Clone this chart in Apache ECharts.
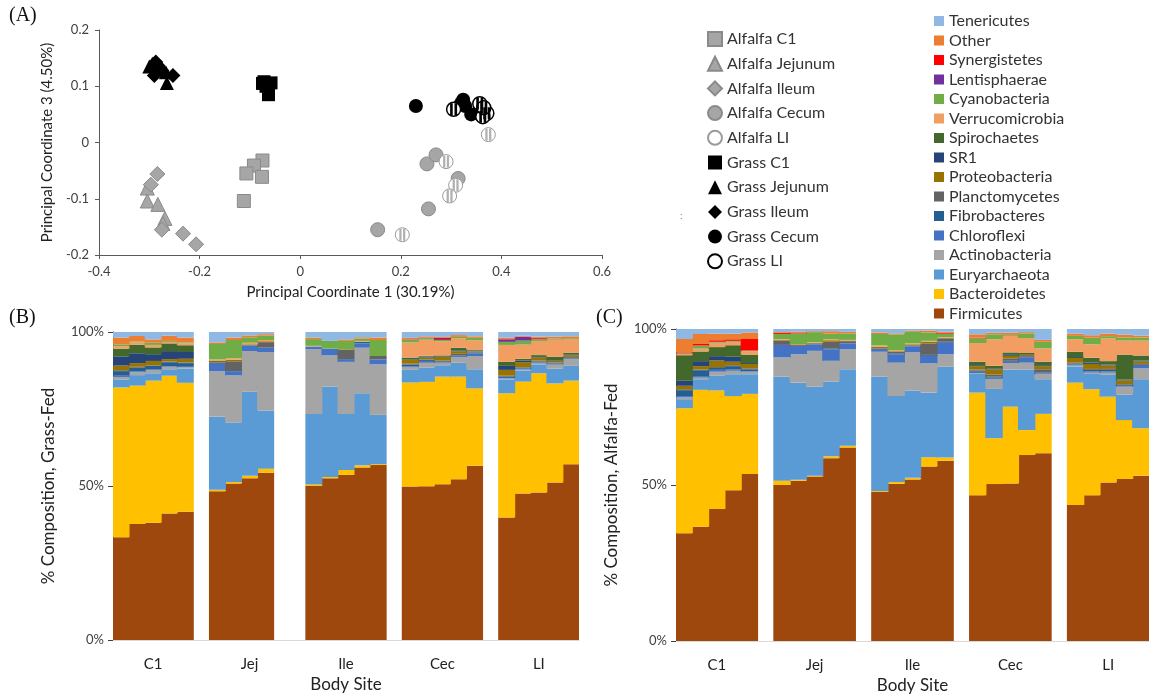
<!DOCTYPE html>
<html>
<head>
<meta charset="utf-8">
<script src="https://cdn.jsdelivr.net/npm/echarts/dist/echarts.min.js"></script>
<style>
  html, body { margin: 0; padding: 0; background: #fff; }
  #chart { width: 1149px; height: 696px; }
</style>
</head>
<body>
<div id="chart"></div>
<script>
// ---- PCoA points [PC1, PC3] ----
const alfalfaC1 = [[-0.075, -0.032], [-0.092, -0.041], [-0.107, -0.055], [-0.076, -0.061], [-0.112, -0.104]]
const alfalfaJej = [[-0.304, -0.081], [-0.304, -0.104], [-0.283, -0.110], [-0.269, -0.135], [-0.273, -0.144]]
const alfalfaIle = [[-0.284, -0.056], [-0.297, -0.075], [-0.275, -0.155], [-0.233, -0.162], [-0.207, -0.181]]
const alfalfaCec = [[0.252, -0.038], [0.270, -0.022], [0.314, -0.064], [0.255, -0.118], [0.154, -0.155]]
const alfalfaLI = [[0.374, 0.014], [0.290, -0.034], [0.309, -0.076], [0.297, -0.095], [0.203, -0.164]]
const grassC1 = [[-0.075, 0.105], [-0.068, 0.100], [-0.058, 0.106], [-0.063, 0.085], [-0.072, 0.108]]
const grassJej = [[-0.294, 0.140], [-0.265, 0.106], [-0.267, 0.125], [-0.300, 0.135]]
const grassIle = [[-0.287, 0.143], [-0.290, 0.119], [-0.253, 0.119], [-0.283, 0.137], [-0.275, 0.128]]
const grassCec = [[0.230, 0.065], [0.324, 0.076], [0.328, 0.065], [0.340, 0.050], [0.320, 0.070]]
const grassLI = [[0.305, 0.059], [0.357, 0.069], [0.371, 0.052], [0.363, 0.046], [0.365, 0.062]]

// ---- bar charts: 5 samples per site (C1, Jej, Ile, Cec, LI) ----
const sites = ['C1', 'Jej', 'Ile', 'Cec', 'LI']
const phyla = ['Firmicutes', 'Bacteroidetes', 'Euryarchaeota', 'Actinobacteria', 'Chloroflexi', 'Fibrobacteres',
  'Planctomycetes', 'Proteobacteria', 'SR1', 'Spirochaetes', 'Verrucomicrobia', 'Cyanobacteria',
  'Lentisphaerae', 'Synergistetes', 'Other', 'Tenericutes']
const phylaColors = ['#9e480e', '#ffc000', '#5b9bd5', '#a5a5a5', '#4472c4', '#255e91',
  '#636363', '#997300', '#264478', '#43682b', '#f29e63', '#70ad47',
  '#7030a0', '#ff0000', '#ed7d31', '#8fb9e4']

// grass-fed (% composition)
const gFirm = [33.4, 37.7, 38.1, 41.1, 41.6, 48.3, 50.8, 52.5, 54.3, null, 50.0, 52.5, 53.6, 56.0, 56.8, 49.8, 49.9, 50.6, 52.2, 56.6, 39.8, 47.6, 47.9, 51.1, 57.1]
const gBact = [48.6, 44.9, 46.1, 44.7, 41.9, 0.5, 0.5, 0.8, 1.3, null, 0.5, 0.4, 1.6, 0.7, 0.3, 33.8, 33.9, 34.9, 33.3, 25.1, 40.3, 36.3, 38.7, 32.2, 27.1]
const gEury = [2.6, 3.4, 2.4, 2.1, 4.6, 23.7, 19.3, 27.3, 18.9, null, 22.9, 29.4, 18.2, 23.4, 16.0, 4.1, 4.6, 3.7, 4.5, 6.2, 4.5, 3.6, 2.9, 4.8, 4.8]
const gActino = [0.8, 0.9, 1.0, 0.8, 0.4, 14.8, 15.3, 13.2, 19.0, null, 21.0, 10.1, 16.9, 14.8, 16.4, 0.8, 1.6, 0.8, 1.9, 4.3, 0.3, 0.3, 0.5, 1.3, 2.2]
const gChlor = [0.4, 0.3, 0.2, 0.2, 0.2, 2.7, 1.4, 1.9, 1.4, null, 0.9, 2.2, 0.9, 1.4, 1.6, 0.3, 0.6, 0.2, 0.4, 0.8, 0.2, 0.3, 0.3, 0.3, 0.2]
const gFibro = [1.5, 1.2, 1.2, 1.3, 1.2, 0, 0, 0, 0, null, 0, 0, 0, 0.5, 0, 0.6, 0.3, 0.3, 0.2, 0.3, 0.5, 0.3, 0.2, 0.2, 0.2]
const gPlanc = [0.3, 0.3, 0.2, 0.2, 0.2, 0, 3.2, 0, 1.8, null, 0, 0, 3.0, 0, 1.1, 0.3, 0.2, 0.2, 0.4, 0.3, 0.2, 0.2, 0.2, 0.2, 0.3]
const gProt = [1.5, 1.2, 1.4, 0.8, 1.2, 0.3, 0.5, 0.3, 0.3, null, 0, 0, 0.2, 0, 0, 1.2, 0.6, 1.2, 0.8, 0.2, 1.9, 1.6, 1.0, 0.6, 0.5]
const gSR1 = [3.0, 3.2, 2.2, 2.6, 2.2, 0, 0, 0, 0, null, 0, 0, 0, 0, 0, 0.2, 0.3, 0.2, 0.2, 0.2, 1.3, 0.5, 0.2, 0.2, 0.2]
const gSpiro = [2.5, 2.7, 2.2, 2.5, 2.2, 0.3, 0, 0, 0, null, 0, 0, 0, 0, 0, 0.6, 0.3, 0.3, 1.0, 0.3, 1.3, 0.6, 0.6, 1.1, 0.6]
const gVerr = [0.8, 0.8, 0.8, 0.5, 0.6, 0.5, 0.5, 0.5, 0.4, null, 0.2, 0, 0, 0.3, 0, 4.9, 5.2, 4.6, 3.0, 3.0, 5.5, 4.6, 4.6, 5.5, 4.5]
const gCyan = [0.6, 0.3, 0.7, 0.3, 0.3, 5.0, 5.9, 1.8, 1.4, null, 2.2, 2.5, 2.7, 0.8, 5.2, 0.8, 0.5, 0.4, 0.5, 0.8, 1.0, 1.3, 0.6, 0.3, 0.3]
const gLent = [0, 0, 0, 0, 0, 0, 0, 0, 0, null, 0, 0, 0, 0, 0, 0.1, 0.1, 0.3, 0, 0, 0.8, 1.2, 0.1, 0, 0]
const gSyn = [0, 0, 0, 0, 0, 0, 0, 0, 0, null, 0, 0, 0, 0, 0, 0.1, 0.1, 0.4, 0, 0, 0.1, 0.1, 0.4, 0, 0]
const gOther = [2.2, 1.8, 1.1, 1.7, 1.6, 0.5, 0.8, 0.6, 0.5, null, 0.5, 0, 0.5, 0.4, 0.8, 0.5, 0.4, 0.3, 0.6, 0.5, 0.5, 0.3, 0.3, 0.7, 0.6]
const gTen = [1.8, 1.3, 2.4, 1.2, 1.8, 3.4, 1.8, 1.1, 0.7, null, 1.8, 2.9, 2.4, 1.7, 1.8, 1.9, 1.4, 1.6, 1.0, 1.4, 1.8, 1.2, 1.5, 1.5, 1.4]

// alfalfa-fed (% composition)
const aFirm = [34.5, 36.6, 42.3, 48.3, 53.5, 50.0, 51.4, 52.7, 58.6, 62.0, 47.8, 50.4, 51.8, 55.9, 57.8, 46.7, 50.3, 50.5, 59.6, 60.2, 43.6, 46.7, 50.8, 51.9, 53.0]
const aBact = [40.1, 43.9, 38.0, 30.2, 25.7, 1.4, 0.3, 0.3, 0.6, 0.6, 0.3, 0.6, 0.5, 3.0, 1.0, 32.9, 14.7, 24.6, 8.0, 12.6, 39.2, 34.0, 27.5, 18.9, 15.2]
const aEury = [2.9, 3.4, 4.7, 7.0, 6.3, 33.3, 31.1, 28.5, 23.9, 24.5, 36.6, 27.5, 28.0, 20.7, 29.1, 6.0, 15.8, 11.9, 19.4, 11.1, 5.2, 4.9, 7.0, 8.2, 15.7]
const aActino = [0.6, 0.5, 1.3, 1.1, 0.8, 6.2, 9.1, 11.5, 6.7, 6.4, 8.0, 10.7, 12.2, 9.4, 4.0, 0.3, 3.2, 2.1, 2.2, 1.6, 0.3, 0.4, 0.7, 2.5, 3.5]
const aChlor = [0.4, 0.3, 0.6, 0.5, 0.2, 4.0, 2.7, 2.1, 3.7, 1.9, 0.9, 2.7, 1.9, 2.4, 3.7, 0.4, 0.4, 0.4, 1.6, 0.3, 0.3, 0.4, 0.4, 0.2, 0.8]
const aFibro = [1.9, 2.1, 0.6, 1.0, 0.6, 0, 0, 0, 0.3, 0, 0, 0.3, 0.2, 0.3, 0.3, 0.4, 0.3, 0.3, 0.2, 0.3, 0.3, 0.5, 0.5, 0.3, 0.3]
const aPlanc = [0.3, 0.2, 0.3, 0.3, 0.3, 1.4, 0.3, 0.3, 2.1, 0.7, 0.2, 0.5, 0.2, 3.7, 1.1, 0.3, 0.7, 0.8, 0.3, 1.0, 0.3, 0.3, 0.3, 0.3, 0.3]
const aProt = [1.1, 1.1, 2.1, 1.1, 1.4, 0.3, 0.2, 0.2, 0.5, 0.2, 0.5, 0.2, 0.3, 0.5, 0.2, 1.1, 1.7, 0.8, 0.4, 1.0, 1.5, 1.6, 1.1, 1.2, 0.8]
const aSR1 = [1.6, 1.6, 1.4, 1.6, 0.3, 0, 0, 0, 0, 0, 0, 0, 0, 0, 0, 0.3, 0.3, 0.3, 0.2, 0.3, 0.3, 0.4, 0.3, 0.3, 0.3]
const aSpiro = [8.2, 3.1, 2.9, 3.7, 2.7, 0, 0, 0, 0, 0, 0, 0, 0, 0, 0, 1.1, 0.8, 0.8, 0.4, 1.1, 1.7, 1.6, 1.1, 8.0, 1.6]
const aVerr = [0.4, 0.9, 1.4, 1.1, 1.1, 0.2, 0.1, 0.2, 0.3, 0.2, 0.4, 0.3, 0.3, 0.3, 0.2, 6.0, 8.5, 5.3, 4.8, 4.3, 4.0, 4.3, 7.3, 4.5, 4.8]
const aCyan = [0.2, 1.0, 0.3, 0.3, 0.2, 1.6, 3.4, 3.2, 1.8, 2.1, 3.7, 5.1, 3.7, 2.7, 1.1, 1.5, 1.6, 0.3, 1.5, 2.1, 1.1, 2.1, 0.7, 1.0, 1.0]
const aLent = [0, 0, 0, 0, 0, 0, 0, 0, 0, 0, 0, 0, 0, 0, 0, 0, 0, 0, 0, 0, 0, 0, 0, 0, 0]
const aSyn = [0.3, 0.5, 0.5, 0.5, 3.7, 0.3, 0.3, 0, 0, 0, 0, 0, 0, 0, 0.3, 0.2, 0, 0, 0, 0, 0, 0, 0, 0, 0]
const aOther = [4.3, 3.2, 2.1, 1.8, 2.1, 0.3, 0.3, 0.3, 0.8, 0.5, 0.5, 0.3, 0.3, 0.6, 0.3, 1.1, 0.5, 0.7, 0.4, 0.6, 0.7, 0.8, 0.8, 0.9, 0.6]
const aTen = [3.2, 1.6, 1.5, 1.5, 1.1, 1.0, 0.8, 0.7, 0.7, 0.9, 1.1, 1.4, 0.6, 0.5, 0.9, 1.7, 1.2, 1.2, 1.0, 3.5, 1.5, 2.0, 1.5, 1.8, 2.1]

const grassData = [gFirm, gBact, gEury, gActino, gChlor, gFibro, gPlanc, gProt, gSR1, gSpiro, gVerr, gCyan, gLent, gSyn, gOther, gTen]
const alfalfaData = [aFirm, aBact, aEury, aActino, aChlor, aFibro, aPlanc, aProt, aSR1, aSpiro, aVerr, aCyan, aLent, aSyn, aOther, aTen]

// 5 samples + 1 empty slot between sites
function toSlots (vals) {
  const out = []
  vals.forEach((v, i) => {
    if (i > 0 && i % 5 === 0) out.push('-')
    out.push(v == null ? '-' : v)
  })
  return out
}
const slots = toSlots(gFirm).map((v, i) => 's' + i)

const font = 'Lato, "Open Sans", sans-serif'
const txt = '#404040'
const grey = '#a6a6a6'
const greyEdge = '#8a8a8a'

function scatter (name, data, symbol, size, fill, edge, edgeW) {
  return {
    name: name,
    type: 'scatter',
    xAxisIndex: 0,
    yAxisIndex: 0,
    symbol: symbol,
    symbolSize: size,
    data: data,
    itemStyle: { color: fill, borderColor: edge, borderWidth: edgeW, opacity: 1 }
  }
}
function stripes (data, color, size) {
  return {
    type: 'scatter',
    xAxisIndex: 0,
    yAxisIndex: 0,
    silent: true,
    symbol: 'path://M0,0h3v10h-3z M5,0h3v10h-3z',
    symbolSize: size,
    data: data,
    itemStyle: { color: color, opacity: 1 }
  }
}

function barAxisX (idx) {
  return {
    type: 'category',
    gridIndex: idx,
    data: slots,
    axisLine: { lineStyle: { color: '#d9d9d9', width: 1 } },
    axisTick: { show: false },
    axisLabel: {
      interval: 0,
      margin: 17,
      fontSize: 15,
      color: '#222',
      fontFamily: font,
      formatter: (v, i) => (i % 6 === 2 ? sites[Math.floor(i / 6)] : '')
    },
    name: 'Body Site',
    nameLocation: 'middle',
    nameGap: 36,
    nameTextStyle: { fontSize: 17, color: '#222', fontFamily: font }
  }
}
function barAxisY (idx, name) {
  return {
    type: 'value',
    gridIndex: idx,
    min: 0,
    max: 100,
    interval: 50,
    splitLine: { show: false },
    axisLine: { show: true, lineStyle: { color: '#404040', width: 1 } },
    axisTick: { show: true, length: 5, lineStyle: { color: '#404040' } },
    axisLabel: { formatter: '{value}%', fontSize: 13, color: txt, fontFamily: font, margin: 9 },
    name: name,
    nameLocation: 'middle',
    nameGap: 56,
    nameRotate: 90,
    nameTextStyle: { fontSize: 17, color: '#222', fontFamily: font }
  }
}

// bars slightly wider than a slot so neighbours touch without seams
const barSeries = []
phyla.forEach((p, k) => {
  barSeries.push({
    name: p, type: 'bar', stack: 'grass', xAxisIndex: 1, yAxisIndex: 1,
    barWidth: 17, barGap: '-100%', data: toSlots(grassData[k]), itemStyle: { color: phylaColors[k] }
  })
  barSeries.push({
    name: p, type: 'bar', stack: 'alfalfa', xAxisIndex: 2, yAxisIndex: 2,
    barWidth: 17.4, barGap: '-100%', data: toSlots(alfalfaData[k]), itemStyle: { color: phylaColors[k] }
  })
})

const chart = echarts.init(document.getElementById('chart'), null, { renderer: 'canvas' })
chart.setOption({
  animation: false,
  backgroundColor: '#fff',
  textStyle: { fontFamily: font },
  grid: [
    { left: 99, right: 547, top: 30, bottom: 441 },
    { left: 113, right: 570, top: 332, bottom: 56 },
    { left: 676, right: -3, top: 329, bottom: 55 }
  ],
  xAxis: [
    {
      type: 'value', gridIndex: 0, min: -0.4, max: 0.6, interval: 0.2,
      splitLine: { show: false },
      axisLine: { onZero: false, lineStyle: { color: '#595959' } },
      axisTick: { show: true, length: 4, lineStyle: { color: '#595959' } },
      axisLabel: { fontSize: 13, color: txt, margin: 10, fontFamily: font },
      name: 'Principal Coordinate 1 (30.19%)',
      nameLocation: 'middle',
      nameGap: 30,
      nameTextStyle: { fontSize: 15, color: '#222', fontFamily: font }
    },
    barAxisX(1),
    barAxisX(2)
  ],
  yAxis: [
    {
      type: 'value', gridIndex: 0, min: -0.2, max: 0.2, interval: 0.1,
      splitLine: { show: false },
      axisLine: { show: true, onZero: false, lineStyle: { color: '#595959' } },
      axisTick: { show: true, length: 4, lineStyle: { color: '#595959' } },
      axisLabel: { fontSize: 13, color: txt, margin: 10, fontFamily: font },
      name: 'Principal Coordinate 3 (4.50%)',
      nameLocation: 'middle',
      nameGap: 44,
      nameRotate: 90,
      nameTextStyle: { fontSize: 15, color: '#222', fontFamily: font }
    },
    barAxisY(1, '% Composition, Grass-Fed'),
    barAxisY(2, '% Composition, Alfalfa-Fed')
  ],
  legend: [
    {
      data: ['Alfalfa C1', 'Alfalfa Jejunum', 'Alfalfa Ileum', 'Alfalfa Cecum', 'Alfalfa LI',
        'Grass C1', 'Grass Jejunum', 'Grass Ileum', 'Grass Cecum', 'Grass LI'],
      orient: 'vertical',
      left: 702,
      top: 26,
      itemWidth: 14,
      itemHeight: 14,
      itemGap: 8.7,
      selectedMode: false,
      textStyle: { fontSize: 16, color: '#333', fontFamily: font, lineHeight: 14 }
    },
    {
      data: phyla.slice().reverse(),
      orient: 'vertical',
      left: 929,
      top: 8,
      itemWidth: 10,
      itemHeight: 10,
      itemGap: 3.5,
      icon: 'rect',
      selectedMode: false,
      textStyle: { fontSize: 16, color: '#333', fontFamily: font, lineHeight: 15 }
    }
  ],
  graphic: [
    { type: 'text', left: 9, top: 6, style: { text: '(A)', font: '20px "Liberation Serif", serif', fill: '#111' } },
    { type: 'text', left: 9, top: 308, style: { text: '(B)', font: '20px "Liberation Serif", serif', fill: '#111' } },
    { type: 'text', left: 596, top: 308, style: { text: '(C)', font: '20px "Liberation Serif", serif', fill: '#111' } },
    { type: 'text', left: 680, top: 212, style: { text: ':', font: '9px sans-serif', fill: '#666' } }
  ],
  series: [
    scatter('Alfalfa C1', alfalfaC1, 'rect', 13, grey, greyEdge, 1),
    scatter('Alfalfa Jejunum', alfalfaJej, 'triangle', 14, grey, greyEdge, 1),
    scatter('Alfalfa Ileum', alfalfaIle, 'diamond', 15, grey, greyEdge, 1),
    scatter('Alfalfa Cecum', alfalfaCec, 'circle', 14, grey, greyEdge, 1),
    scatter('Alfalfa LI', alfalfaLI, 'circle', 14, '#fff', '#9a9a9a', 1),
    stripes(alfalfaLI, '#b0b0b0', [6, 12]),
    scatter('Grass C1', grassC1, 'rect', 13, '#000', '#000', 0),
    scatter('Grass Jejunum', grassJej, 'triangle', 14, '#000', '#000', 0),
    scatter('Grass Ileum', grassIle, 'diamond', 15, '#000', '#000', 0),
    scatter('Grass Cecum', grassCec, 'circle', 14, '#000', '#000', 0),
    scatter('Grass LI', grassLI, 'circle', 14, '#fff', '#000', 1.5),
    stripes(grassLI, '#000', [7, 12])
  ].concat(barSeries)
})
</script>
</body>
</html>
